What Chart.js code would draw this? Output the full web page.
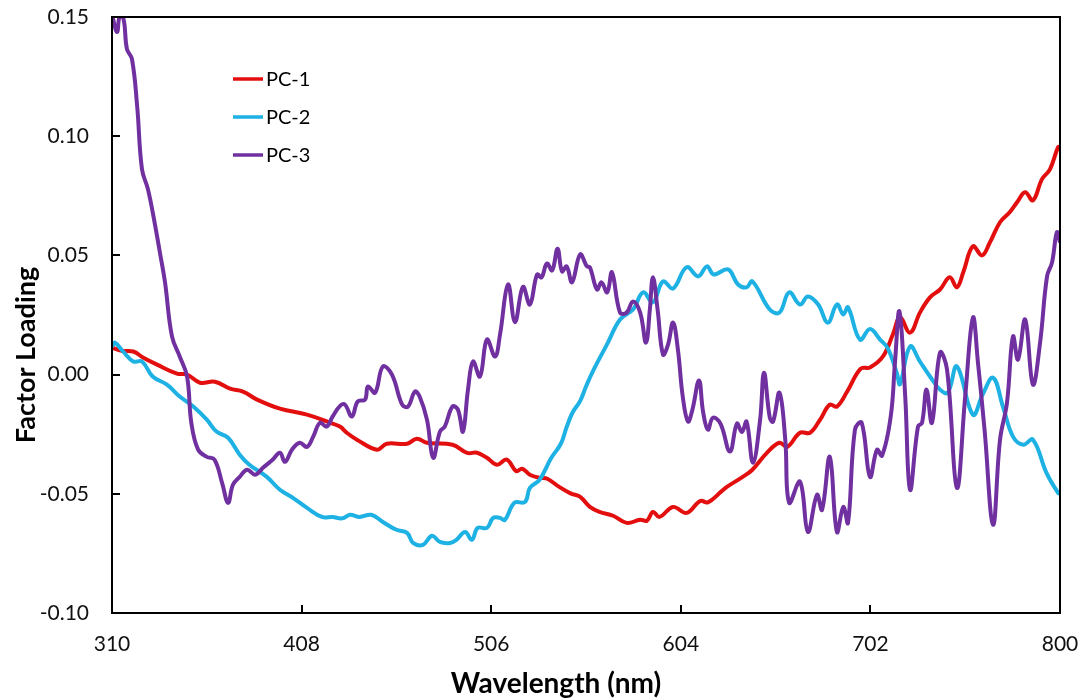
<!DOCTYPE html>
<html>
<head>
<meta charset="utf-8">
<script src="https://cdn.jsdelivr.net/npm/chart.js@4.4.1/dist/chart.umd.min.js"></script>
<style>
  html, body { margin: 0; padding: 0; background: #ffffff; }
  #wrap { width: 1085px; height: 700px; position: relative; }
</style>
</head>
<body>
<div id="wrap"><canvas id="chart" width="1085" height="700"></canvas></div>
<script>
// Axis ticks
const xTickValues = [310, 408, 506, 604, 702, 800];
const yTickValues = [-0.10, -0.05, 0.00, 0.05, 0.10, 0.15];

// Series names and colours
const seriesNames = ['PC-1', 'PC-2', 'PC-3'];
const seriesColors = ['#E30F0F', '#1DB1E4', '#7030A0'];

// PC-1 factor loadings
const pc1Wavelength = [310, 315, 321, 326, 333.3, 343.6, 348.8, 355.5, 363.2, 371, 377.7, 385, 396.8, 410.8, 422.7, 427.8, 431.5, 436.6, 447, 452, 462.5, 467.6, 472.8, 486, 493.5, 498.7, 503.8, 509, 514, 519, 522, 526, 531, 535, 541, 547, 552, 557, 562, 569, 576, 583, 586.5, 589.6, 593, 600, 607, 614, 618, 625, 628, 636, 641, 648.5, 655, 659, 665.6, 670.8, 676, 681, 684.7, 690, 697, 701.8, 708.5, 713.7, 717.3, 722.5, 727.6, 732.8, 738, 743, 746.7, 750, 755, 759.7, 763.8, 769, 774, 777.8, 782, 786, 790.7, 794.8, 799, 800];
const pc1Loading = [0.0113, 0.0100, 0.0097, 0.0072, 0.0042, 0.0004, 0.0000, -0.0034, -0.0030, -0.0059, -0.0071, -0.0105, -0.0143, -0.0168, -0.0202, -0.0218, -0.0245, -0.0273, -0.0315, -0.0290, -0.0290, -0.0269, -0.0286, -0.0294, -0.0328, -0.0328, -0.0349, -0.0378, -0.0357, -0.0405, -0.0395, -0.0420, -0.0433, -0.0437, -0.0470, -0.0498, -0.0513, -0.0555, -0.0576, -0.0592, -0.0622, -0.0609, -0.0613, -0.0576, -0.0597, -0.0555, -0.0580, -0.0530, -0.0536, -0.0490, -0.0470, -0.0429, -0.0399, -0.0328, -0.0286, -0.0303, -0.0244, -0.0244, -0.0189, -0.0126, -0.0134, -0.0071, 0.0025, 0.0030, 0.0076, 0.0170, 0.0239, 0.0176, 0.0260, 0.0324, 0.0357, 0.0408, 0.0366, 0.0429, 0.0538, 0.0500, 0.0555, 0.0639, 0.0681, 0.0723, 0.0765, 0.0731, 0.0820, 0.0861, 0.0954, 0.0955];

// PC-2 factor loadings
const pc2Wavelength = [310, 311.5, 315.7, 321, 325.5, 331, 338.4, 345, 352, 359, 364, 370, 376, 381, 390, 396.8, 403.5, 410.8, 418.5, 424, 429, 433, 438, 444, 450, 457, 462.5, 465.6, 470.7, 475.4, 479.5, 484.7, 488, 492.5, 496, 499, 503.8, 507, 510.5, 513, 518, 523.5, 526, 531, 537, 542, 545, 548, 552, 555, 558.6, 565.8, 572.6, 579.3, 584.5, 589.6, 594.8, 600, 607, 613, 617.5, 621, 628.4, 633.6, 638, 641, 650, 655, 660, 665.6, 669.7, 675, 680, 684.7, 688, 690.4, 696.6, 701.8, 707, 711, 715.7, 717.3, 722.5, 727.6, 732.8, 738, 742, 746.7, 755, 760, 765.4, 770.5, 775.7, 781, 786, 793, 799, 800];
const pc2Loading = [0.0118, 0.0134, 0.0097, 0.0055, 0.0055, -0.0008, -0.0042, -0.0092, -0.0134, -0.0189, -0.0239, -0.0265, -0.0336, -0.0378, -0.0429, -0.0483, -0.0517, -0.0559, -0.0597, -0.0597, -0.0603, -0.0588, -0.0597, -0.0588, -0.0618, -0.0651, -0.0664, -0.0706, -0.0714, -0.0676, -0.0702, -0.0706, -0.0693, -0.0660, -0.0693, -0.0643, -0.0643, -0.0601, -0.0601, -0.0610, -0.0538, -0.0534, -0.0475, -0.0441, -0.0350, -0.0290, -0.0220, -0.0160, -0.0110, -0.0050, 0.0015, 0.0126, 0.0231, 0.0273, 0.0345, 0.0303, 0.0391, 0.0361, 0.0450, 0.0412, 0.0454, 0.0420, 0.0441, 0.0378, 0.0366, 0.0391, 0.0273, 0.0260, 0.0345, 0.0294, 0.0328, 0.0294, 0.0218, 0.0294, 0.0252, 0.0282, 0.0147, 0.0191, 0.0147, 0.0110, 0.0005, -0.0040, 0.0118, 0.0055, -0.0008, -0.0063, -0.0076, 0.0034, -0.0168, -0.0084, -0.0013, -0.0134, -0.0260, -0.0294, -0.0273, -0.0412, -0.0496, -0.0500];

// PC-3 factor loadings
const pc3Wavelength = [310, 312.6, 314, 316, 317.7, 320.3, 323, 325.5, 328.6, 332, 334.8, 337.4, 341, 345, 348.8, 351, 354.5, 359, 363, 366.9, 370, 372.5, 376, 379.8, 384, 388, 393, 396.8, 399.4, 403, 407, 410.8, 414, 417.5, 421, 424, 428, 430.4, 434, 437, 440.8, 442.3, 446, 450, 454.7, 460, 463, 466.6, 469, 472.8, 476, 479.5, 482, 486, 488.8, 491.4, 494, 496.6, 500.2, 503.8, 508, 510.5, 514.7, 518.3, 522.4, 526, 529.7, 532, 534.8, 537.5, 540.3, 542.6, 545, 547.8, 552, 555.5, 557, 560.7, 563, 566, 568.4, 572.6, 576, 579.3, 583, 586, 588, 589.6, 592, 594.8, 597.4, 600, 602.5, 605, 607.7, 610, 613.4, 615.5, 618, 620.6, 624.5, 629.4, 633, 635.6, 638, 641.3, 645, 647, 650, 651.7, 655, 658, 660, 665.6, 669.7, 674.4, 677, 681, 684.7, 688, 690.4, 694, 697.5, 701.8, 705.4, 708, 712.5, 714.7, 717, 720, 722.5, 726.6, 728.7, 731, 733.8, 738, 741.6, 746.7, 751, 755, 757.6, 761, 765.4, 769, 772.6, 775.7, 778.3, 782, 786, 789.7, 793.3, 795.9, 798.4, 800];
const pc3Loading = [0.1510, 0.1437, 0.1505, 0.1490, 0.1366, 0.1324, 0.1126, 0.0861, 0.0777, 0.0639, 0.0510, 0.0387, 0.0160, 0.0076, -0.0008, -0.0202, -0.0315, -0.0345, -0.0357, -0.0454, -0.0538, -0.0462, -0.0429, -0.0399, -0.0420, -0.0391, -0.0357, -0.0328, -0.0366, -0.0315, -0.0286, -0.0303, -0.0260, -0.0202, -0.0218, -0.0176, -0.0130, -0.0126, -0.0176, -0.0113, -0.0105, -0.0050, -0.0076, 0.0034, 0.0000, -0.0126, -0.0134, -0.0071, -0.0092, -0.0189, -0.0349, -0.0239, -0.0218, -0.0134, -0.0147, -0.0239, -0.0063, 0.0055, -0.0008, 0.0147, 0.0076, 0.0165, 0.0378, 0.0220, 0.0368, 0.0294, 0.0420, 0.0408, 0.0466, 0.0437, 0.0528, 0.0433, 0.0454, 0.0387, 0.0504, 0.0454, 0.0450, 0.0357, 0.0387, 0.0345, 0.0429, 0.0260, 0.0260, 0.0307, 0.0260, 0.0134, 0.0273, 0.0408, 0.0273, 0.0084, 0.0126, 0.0218, 0.0105, -0.0092, -0.0197, -0.0147, -0.0025, -0.0155, -0.0231, -0.0181, -0.0206, -0.0323, -0.0206, -0.0241, -0.0197, -0.0370, -0.0189, 0.0008, -0.0181, -0.0197, -0.0076, -0.0273, -0.0538, -0.0449, -0.0660, -0.0504, -0.0567, -0.0345, -0.0660, -0.0555, -0.0622, -0.0231, -0.0202, -0.0429, -0.0315, -0.0340, -0.0176, 0.0050, 0.0265, -0.0092, -0.0483, -0.0218, -0.0202, -0.0063, -0.0202, 0.0092, 0.0021, -0.0475, -0.0092, 0.0239, 0.0050, -0.0231, -0.0630, -0.0273, -0.0118, 0.0160, 0.0063, 0.0231, -0.0042, 0.0134, 0.0412, 0.0471, 0.0597, 0.0555];

const wavelengths = [pc1Wavelength, pc2Wavelength, pc3Wavelength];
const loadings = [pc1Loading, pc2Loading, pc3Loading];

const FONT = 'Lato, "Open Sans", sans-serif';

// Frame, inward tick marks, axis titles and the in-plot legend
const framePlugin = {
  id: 'frame',
  afterDraw(chart) {
    const ctx = chart.ctx;
    const a = chart.chartArea;
    const xs = chart.scales.x, ys = chart.scales.y;
    ctx.save();
    ctx.strokeStyle = '#000';
    ctx.lineWidth = 2;
    ctx.strokeRect(a.left, a.top, a.right - a.left, a.bottom - a.top);
    ctx.beginPath();
    xTickValues.forEach(v => {
      const px = Math.round(xs.getPixelForValue(v));
      ctx.moveTo(px, a.bottom);
      ctx.lineTo(px, a.bottom - 8);
    });
    yTickValues.forEach(v => {
      const py = Math.round(ys.getPixelForValue(v));
      ctx.moveTo(a.left, py);
      ctx.lineTo(a.left + 8, py);
    });
    ctx.stroke();

    // axis titles
    ctx.fillStyle = '#000';
    ctx.textAlign = 'center';
    ctx.textBaseline = 'alphabetic';
    ctx.font = 'bold 28px ' + FONT;
    ctx.fillText('Wavelength (nm)', 556, 693);
    ctx.font = 'bold 27px ' + FONT;
    ctx.translate(35, 355);
    ctx.rotate(-Math.PI / 2);
    ctx.fillText('Factor Loading', 0, 0);
    ctx.restore();

    // legend
    ctx.save();
    ctx.font = '20px ' + FONT;
    ctx.textAlign = 'left';
    ctx.textBaseline = 'middle';
    chart.data.datasets.forEach((ds, i) => {
      const y = 79 + i * 38;
      ctx.strokeStyle = ds.borderColor;
      ctx.lineWidth = 3.5;
      ctx.beginPath();
      ctx.moveTo(233, y);
      ctx.lineTo(263, y);
      ctx.stroke();
      ctx.fillStyle = '#000';
      ctx.fillText(ds.label, 266, y + 1);
    });
    ctx.restore();
  }
};

const datasets = seriesNames.map((name, i) => ({
  label: name,
  data: wavelengths[i].map((w, j) => ({ x: w, y: loadings[i][j] })),
  borderColor: seriesColors[i],
  backgroundColor: seriesColors[i],
  borderWidth: 4,
  pointRadius: 0,
  tension: 0.4,
  fill: false,
  order: 2 - i
}));

new Chart(document.getElementById('chart'), {
  type: 'line',
  data: { datasets },
  options: {
    responsive: false,
    animation: false,
    devicePixelRatio: 1,
    layout: { padding: { top: 17, right: 25, left: 0, bottom: 0 } },
    plugins: { legend: { display: false }, tooltip: { enabled: false } },
    scales: {
      x: {
        type: 'linear',
        min: 310,
        max: 800,
        grid: { display: false, drawTicks: false },
        border: { display: false },
        afterFit(scale) {
          scale.height = 87;
          scale.paddingLeft = 0;
          scale.paddingRight = 0;
        },
        afterBuildTicks(scale) { scale.ticks = xTickValues.map(v => ({ value: v })); },
        ticks: {
          padding: 19,
          color: '#111',
          font: { family: FONT, size: 21 },
          maxRotation: 0,
          autoSkip: false,
          callback: v => String(v)
        }
      },
      y: {
        type: 'linear',
        min: -0.10,
        max: 0.15,
        grid: { display: false, drawTicks: false },
        border: { display: false },
        afterFit(scale) {
          scale.width = 112;
          scale.paddingTop = 0;
          scale.paddingBottom = 0;
        },
        afterBuildTicks(scale) { scale.ticks = yTickValues.map(v => ({ value: v })); },
        ticks: {
          padding: 23,
          color: '#111',
          font: { family: FONT, size: 21 },
          autoSkip: false,
          callback: v => Number(v).toFixed(2)
        }
      }
    }
  },
  plugins: [framePlugin]
});
</script>
</body>
</html>
